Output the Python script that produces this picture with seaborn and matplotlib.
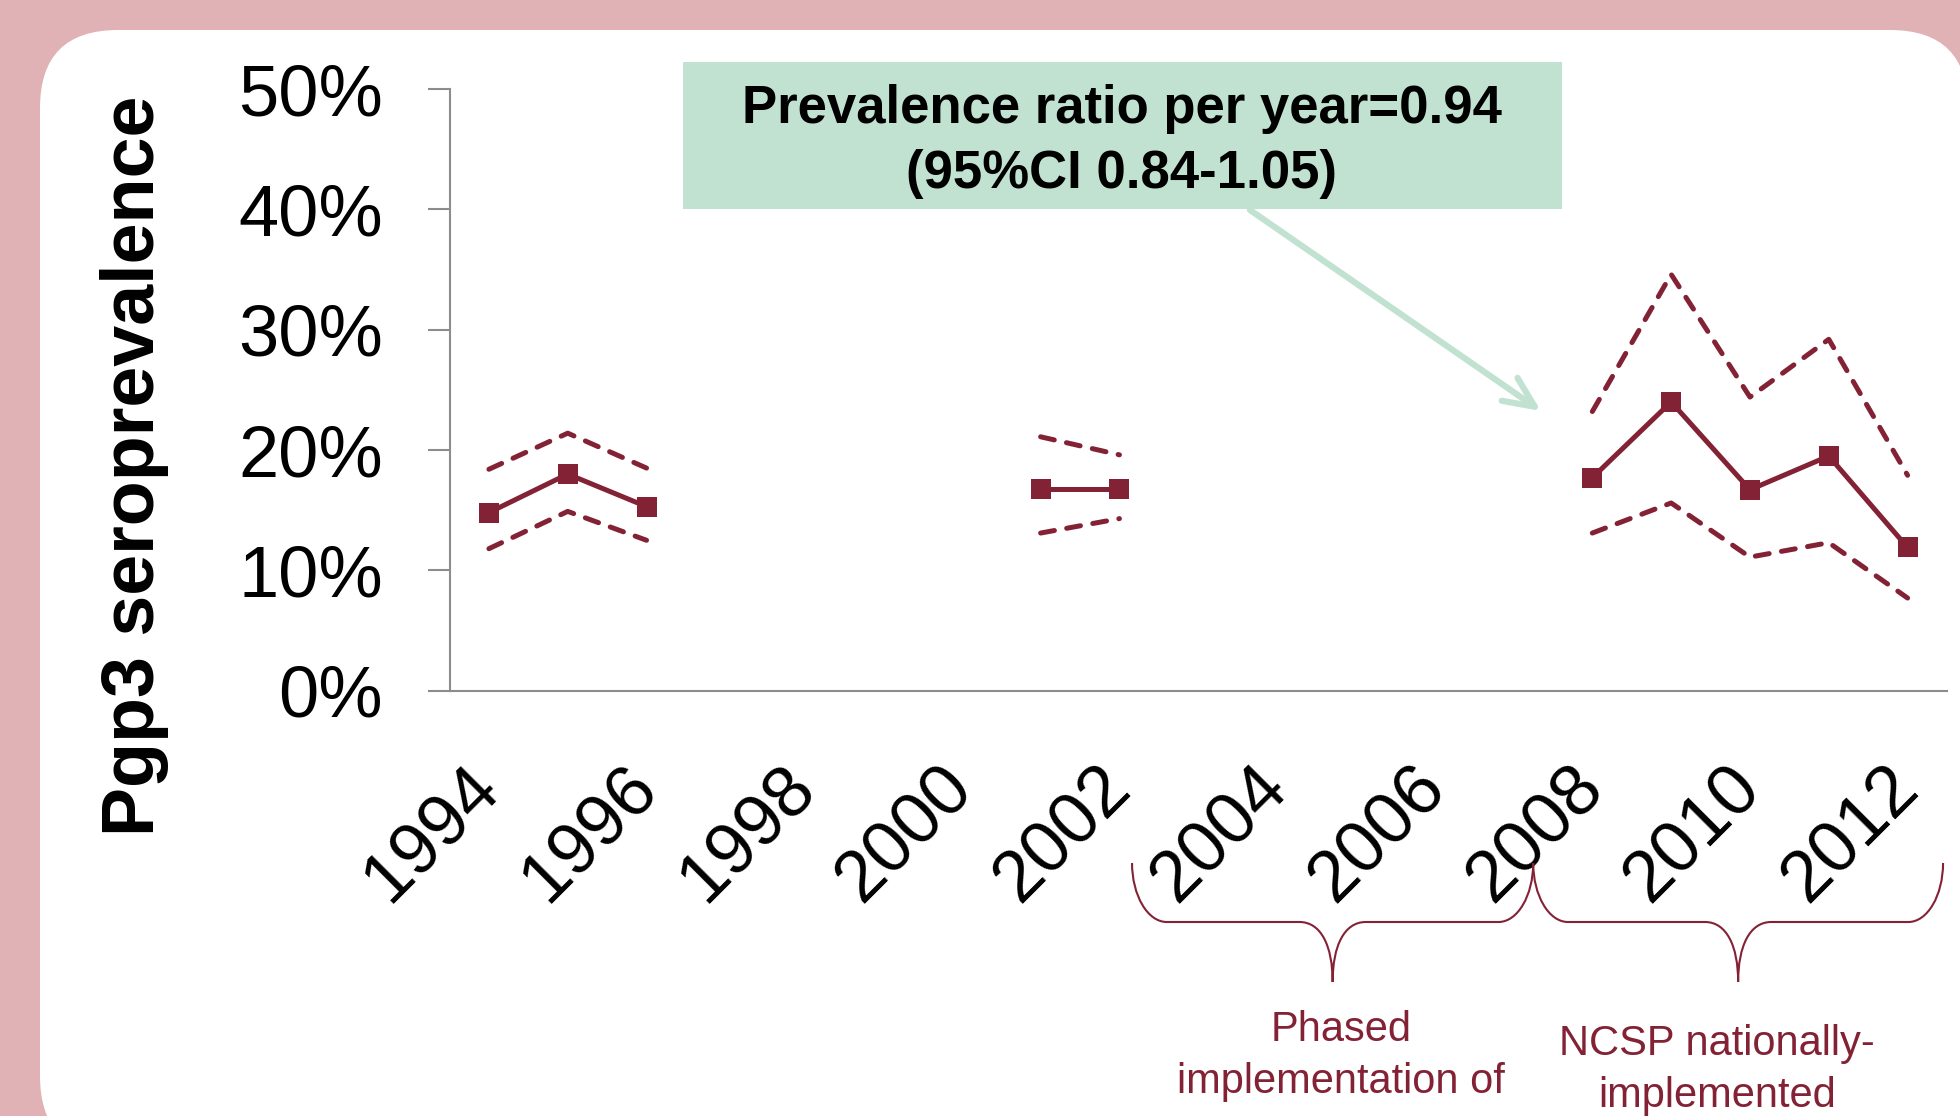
import numpy as np
import pandas as pd
import matplotlib
matplotlib.use("Agg")
import matplotlib.pyplot as plt
import matplotlib.transforms as mtransforms
from matplotlib.patches import FancyBboxPatch, Rectangle, FancyArrowPatch, PathPatch
from matplotlib.path import Path
from matplotlib.ticker import PercentFormatter
import seaborn as sns

# Pgp3 seroprevalence by survey year, with 95% CI bounds
years = [1994, 1995, 1996, 2001, 2002, 2008, 2009, 2010, 2011, 2012]
prevalence = [0.148, 0.180, 0.153, 0.168, 0.168, 0.177, 0.240, 0.167, 0.195, 0.119]
ci_lower = [0.118, 0.149, 0.125, 0.131, 0.143, 0.131, 0.156, 0.111, 0.123, 0.077]
ci_upper = [0.184, 0.214, 0.185, 0.211, 0.196, 0.232, 0.346, 0.244, 0.292, 0.179]

label_years = [1994, 1996, 1998, 2000, 2002, 2004, 2006, 2008, 2010, 2012]
year_labels = [str(y) for y in label_years]
y_ticks = [0, 0.1, 0.2, 0.3, 0.4, 0.5]

box_lines = ["Prevalence ratio per year=0.94", "(95%CI 0.84\u20101.05)"]
brace_spans = [(2002.16, 2007.25), (2007.25, 2012.45)]
brace_notes = [["Phased", "implementation of", "NCSP"],
               ["NCSP nationally-", "implemented"]]

MAROON = "#842235"
PINK = "#E0B2B5"
GREEN = "#C2E2D1"
GREY = "#8C8C8C"

df = pd.DataFrame({"year": years, "prev": prevalence, "lo": ci_lower, "hi": ci_upper})
# consecutive years form one connected segment
df["segment"] = (df["year"].diff() != 1).cumsum()

sns.set_style("white")
plt.rcParams["font.family"] = ["Liberation Sans", "DejaVu Sans"]
plt.rcParams["text.color"] = "black"
plt.rcParams["axes.labelcolor"] = "black"
plt.rcParams["xtick.labelcolor"] = "black"
plt.rcParams["ytick.labelcolor"] = "black"

W, H = 1960, 1116
fig = plt.figure(figsize=(W / 100, H / 100), dpi=100)
fig.patch.set_facecolor(PINK)
pix = mtransforms.Affine2D().scale(1, -1).translate(0, H)  # pixel coords from top-left

# white rounded panel
panel = FancyBboxPatch((40, 30), 1928, 1124, boxstyle="round,pad=0,rounding_size=78",
                       transform=pix, fc="white", ec="none", zorder=-1)
fig.add_artist(panel)

ax = fig.add_axes([449.5 / W, 1 - 690.7 / H, (1947 - 449.5) / W, (690.7 - 89) / H])
ax.patch.set_alpha(0)

dash = (0, (2.8, 2.5))
for col in ["hi", "lo"]:
    sns.lineplot(data=df, x="year", y=col, units="segment", estimator=None, color=MAROON,
                 lw=3.6, linestyle=dash, dash_capstyle="round", ax=ax, legend=False)
sns.lineplot(data=df, x="year", y="prev", units="segment", estimator=None, color=MAROON,
             lw=3.6, marker="s", markersize=14.4, markeredgewidth=0, ax=ax, legend=False)

ax.set_xlim(1993.5, 2012.5)
ax.set_ylim(0, 0.5)
bounds = np.arange(1993.5, 2013, 1)
ax.set_xticks(bounds, labels=[""] * len(bounds))
ax.set_xticks(label_years, labels=year_labels, minor=True)
ax.tick_params(axis="x", which="major", length=16.5, width=1.5, color=GREY, direction="out")
ax.tick_params(axis="x", which="minor", length=0, pad=62, labelsize=52, labelcolor="black")
plt.setp(ax.get_xticklabels(minor=True), rotation=45, ha="right", va="center",
         rotation_mode="anchor")

ax.set_yticks(y_ticks)
ax.yaxis.set_major_formatter(PercentFormatter(1.0, decimals=0))
ax.tick_params(axis="y", length=16, width=1.5, color=GREY, direction="out", pad=32,
               labelsize=52, left=True, labelcolor="black")

for s in ["top", "right"]:
    ax.spines[s].set_visible(False)
for s in ["left", "bottom"]:
    ax.spines[s].set_color(GREY)
    ax.spines[s].set_linewidth(1.5)

ax.set_xlabel("")
ax.set_ylabel("Pgp3 seroprevalence", fontsize=53, fontweight="bold", color="black")
ax.yaxis.set_label_coords(-0.1873, 0.3734)

# green annotation box and arrow
fig.add_artist(Rectangle((683, 62), 879, 147, transform=pix, fc=GREEN, ec="none", zorder=3))
for i, line in enumerate(box_lines):
    fig.text(1122, 123 + 65 * i, line, transform=pix, ha="center", va="baseline",
             fontsize=38, fontweight="bold", color="black", zorder=4)
fig.add_artist(FancyArrowPatch((1250, 210), (1541, 411), transform=pix,
                               arrowstyle="->,head_length=1.1,head_width=0.5",
                               mutation_scale=20, lw=4.5, color=GREEN, shrinkA=0,
                               shrinkB=0, capstyle="round", joinstyle="round", zorder=3))

# braces under the x axis
btrans = mtransforms.blended_transform_factory(ax.transData, pix)


def brace(x0, x1, top=863, mid=922, tip=982, r=0.44, rc=0.42):
    xc = (x0 + x1) / 2
    verts = [(x0, top), (x0, top + 0.55 * (mid - top)), (x0 + 0.45 * r, mid), (x0 + r, mid),
             (xc - rc, mid),
             (xc - 0.35 * rc, mid), (xc, mid + 0.4 * (tip - mid)), (xc, tip),
             (xc, mid + 0.4 * (tip - mid)), (xc + 0.35 * rc, mid), (xc + rc, mid),
             (x1 - r, mid),
             (x1 - 0.45 * r, mid), (x1, top + 0.55 * (mid - top)), (x1, top)]
    codes = ([Path.MOVETO] + [Path.CURVE4] * 3 + [Path.LINETO] + [Path.CURVE4] * 6
             + [Path.LINETO] + [Path.CURVE4] * 3)
    return Path(verts, codes)


for x0, x1 in brace_spans:
    fig.add_artist(PathPatch(brace(x0, x1), transform=btrans, fc="none", ec=MAROON,
                             lw=1.5, zorder=3))

note_pos = [(1341, 1041), (1717, 1055)]
for (nx, ny), lines in zip(note_pos, brace_notes):
    for i, line in enumerate(lines):
        fig.text(nx, ny + 52 * i, line, transform=pix, ha="center", va="baseline",
                 fontsize=30, color=MAROON, zorder=4)

fig.savefig("out.png", dpi=100, facecolor=fig.get_facecolor())
